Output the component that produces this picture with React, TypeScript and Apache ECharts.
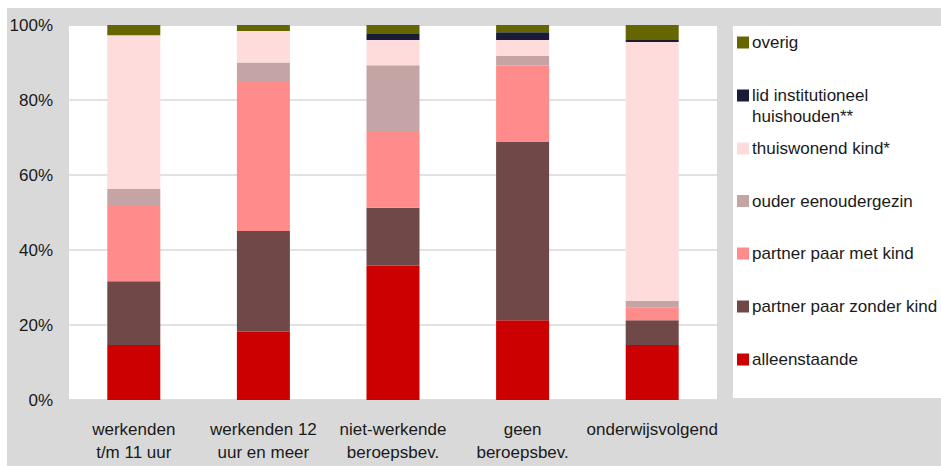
import React, { useEffect, useRef } from "react";
import * as echarts from "echarts";

const categories = [
  "werkenden\nt/m 11 uur",
  "werkenden 12\nuur en meer",
  "niet-werkende\nberoepsbev.",
  "geen\nberoepsbev.",
  "onderwijsvolgend",
];

const yTicks = [0, 20, 40, 60, 80, 100];

const alleenstaande = [14.7, 18.2, 35.8, 21.3, 14.7];
const partnerZonderKind = [17.0, 26.9, 15.5, 47.5, 6.6];
const partnerMetKind = [20.3, 40.0, 20.2, 20.4, 3.3];
const ouderEenoudergezin = [4.3, 4.9, 17.8, 2.6, 1.9];
const thuiswonendKind = [41.0, 8.4, 6.7, 4.2, 69.0];
const lidInstitutioneel = [0, 0, 1.6, 2.1, 0.5];
const overig = [2.7, 1.6, 2.4, 1.9, 4.0];

const LID = "lid institutioneel huishouden**";

const seriesDefs = [
  { name: "alleenstaande", data: alleenstaande, color: "#cc0000" },
  { name: "partner paar zonder kind", data: partnerZonderKind, color: "#704848" },
  { name: "partner paar met kind", data: partnerMetKind, color: "#ff8b8b" },
  { name: "ouder eenoudergezin", data: ouderEenoudergezin, color: "#c4a4a4" },
  { name: "thuiswonend kind*", data: thuiswonendKind, color: "#ffdcdc" },
  { name: LID, data: lidInstitutioneel, color: "#181c38" },
  { name: "overig", data: overig, color: "#666600" },
];

// legend icon centers (px) from top, in display order
const legendOrder = [
  { name: "overig", cy: 42.5 },
  { name: LID, cy: 95.5 },
  { name: "thuiswonend kind*", cy: 148.5 },
  { name: "ouder eenoudergezin", cy: 201 },
  { name: "partner paar met kind", cy: 253.5 },
  { name: "partner paar zonder kind", cy: 306.5 },
  { name: "alleenstaande", cy: 359.5 },
];

const FONT = "Liberation Sans";
const TEXT_COLOR = "#1a1a1a";
const FS = 17;
const LH = 21;

export default function App() {
  const ref = useRef<HTMLDivElement>(null);
  useEffect(() => {
    if (!ref.current) return;
    const chart = echarts.init(ref.current, null, { renderer: "svg" });
    const legends = legendOrder.map((l) => {
      const lines = l.name === LID ? 3 : 1;
      return {
        data: [l.name],
        left: 737,
        top: l.cy - (lines * LH) / 2,
        padding: 0,
        itemWidth: 12,
        itemHeight: 12,
        icon: "rect",
        selectedMode: false,
        formatter: (name: string) =>
          name === LID ? " \nlid institutioneel\nhuishouden**" : name,
        textStyle: {
          fontFamily: FONT,
          fontSize: FS,
          lineHeight: LH,
          color: TEXT_COLOR,
          padding: [0, 0, 0, -2],
        },
      };
    });
    chart.setOption({
      animation: false,
      textStyle: { fontFamily: FONT },
      graphic: [
        {
          type: "rect",
          z: -100,
          shape: { x: 7, y: 8, width: 934, height: 458 },
          style: { fill: "#d9d9d9" },
          silent: true,
        },
        {
          type: "rect",
          z: -99,
          shape: { x: 69, y: 26, width: 648, height: 374 },
          style: { fill: "#ffffff" },
          silent: true,
        },
        {
          type: "rect",
          z: -99,
          shape: { x: 733, y: 26, width: 208, height: 372 },
          style: { fill: "#ffffff" },
          silent: true,
        },
      ],
      legend: legends,
      grid: { left: 69, right: 224, top: 25, bottom: 66, containLabel: false },
      xAxis: {
        type: "category",
        data: categories,
        axisLine: { show: true, lineStyle: { color: "#d9d9d9", width: 1.5 } },
        axisTick: { show: false },
        axisLabel: {
          margin: 18,
          fontFamily: FONT,
          fontSize: FS,
          lineHeight: 23,
          color: TEXT_COLOR,
          interval: 0,
        },
      },
      yAxis: {
        type: "value",
        min: yTicks[0],
        max: yTicks[yTicks.length - 1],
        interval: yTicks[1] - yTicks[0],
        axisLine: { show: false },
        axisTick: { show: false },
        splitLine: { lineStyle: { color: "#d9d9d9", width: 1.5 } },
        axisLabel: {
          formatter: "{value}%",
          margin: 16,
          fontFamily: FONT,
          fontSize: FS,
          color: TEXT_COLOR,
        },
      },
      series: seriesDefs.map((s) => ({
        name: s.name,
        type: "bar",
        stack: "total",
        data: s.data,
        barWidth: 53,
        itemStyle: { color: s.color },
        emphasis: { disabled: true },
      })),
    });
    return () => chart.dispose();
  }, []);
  return (
    <div
      ref={ref}
      style={{ position: "absolute", left: 0, top: 0, width: 941, height: 466 }}
    />
  );
}
